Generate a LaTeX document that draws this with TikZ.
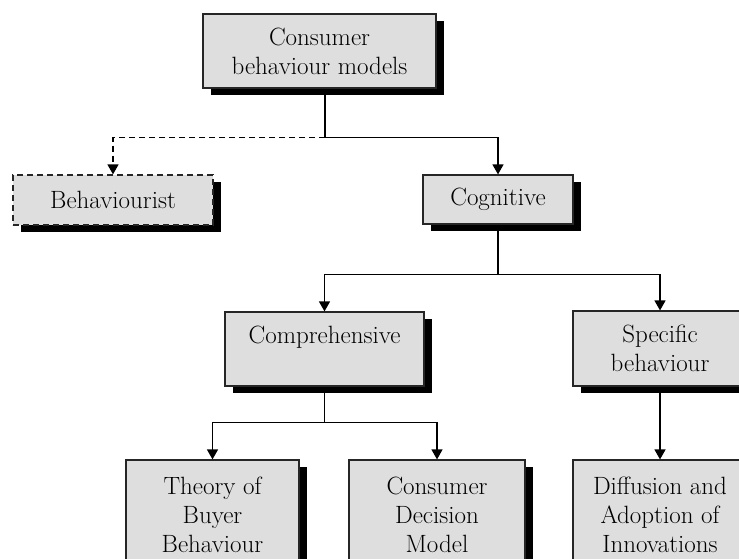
\documentclass[tikz,border=0pt]{standalone}
\usetikzlibrary{shadows,arrows.meta}
\definecolor{boxgray}{HTML}{DEDEDE}
\begin{document}
\begin{tikzpicture}[x=1pt,y=-1pt,
  box/.style={draw=black!85,line width=1.2pt,fill=boxgray,align=center,inner sep=0pt,
    font=\fontsize{25}{29}\selectfont,
    drop shadow={shadow xshift=8pt,shadow yshift=-7pt,fill=black,opacity=1}},
  link/.style={line width=1.4pt,-{Triangle[width=11pt,length=10pt]}},
  plain/.style={line width=1.4pt},
  dashline/.style={dash pattern=on 6pt off 4pt}
]
\useasboundingbox (0,0) rectangle (739,558);
\clip (0,0) rectangle (739,558);

% boxes
\node[box,minimum width=233pt,minimum height=74pt] (top) at (319.5,51)
  {Consumer\\behaviour models};
\node[box,dashline,minimum width=200pt,minimum height=50pt] (behav) at (113,200)
  {Behaviourist};
\node[box,minimum width=150pt,minimum height=49pt] (cog) at (498,199.5)
  {Cognitive};
\node[box,minimum width=199pt,minimum height=74pt] (comp) at (324.5,349)
  {Comprehensive\\\mbox{}};
\node[box,minimum width=174pt,minimum height=75pt] (spec) at (660,348.5)
  {Specific\\behaviour};
\node[box,minimum width=173pt,minimum height=110pt] (theory) at (212.5,515)
  {Theory of\\Buyer\\Behaviour};
\node[box,minimum width=176pt,minimum height=110pt] (cdm) at (437,515)
  {Consumer\\Decision\\Model};
\node[box,minimum width=174pt,minimum height=110pt] (diff) at (660,515)
  {Diffusion and\\Adoption of\\Innovations};

% junction points of the branching connectors
\path ([xshift=5.5pt]top.south) ++(0,49) coordinate (j1);
\path (cog.south) ++(0,50) coordinate (j2);
\path (comp.south) ++(0,36) coordinate (j3);

% connectors
\draw[plain] ([xshift=5.5pt]top.south) -- (j1);
\draw[link] (j1) -| (cog.north);
\draw[link,dashline] (j1) -| (behav.north);
\draw[plain] (cog.south) -- (j2);
\draw[link] (j2) -| (comp.north);
\draw[link] (j2) -| (spec.north);
\draw[plain] (comp.south) -- (j3);
\draw[link] (j3) -| (theory.north);
\draw[link] (j3) -| (cdm.north);
\draw[link] (spec.south) -- (diff.north);
\end{tikzpicture}
\end{document}
